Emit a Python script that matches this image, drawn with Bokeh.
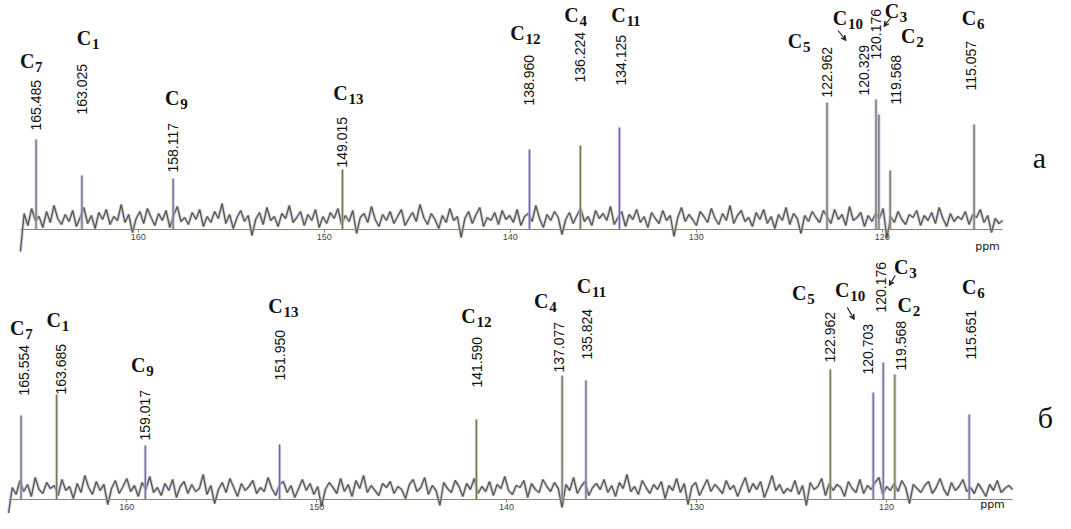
import numpy as np
from bokeh.plotting import figure
from bokeh.models import Range1d, FixedTicker, Arrow, VeeHead
from bokeh.layouts import column
from bokeh.embed import file_html
from bokeh.resources import INLINE
from bokeh.core.properties import value

# ---------------- data ----------------
carbons = ["7", "1", "9", "13", "12", "4", "11", "5", "10", "3", "2", "6"]

shift_a = [165.485, 163.025, 158.117, 149.015, 138.960, 136.224,
           134.125, 122.962, 120.329, 120.176, 119.568, 115.057]
height_a = [90, 54, 51, 60, 80, 84, 102, 127, 130, 115, 59, 105]

shift_b = [165.554, 163.685, 159.017, 151.950, 141.590, 137.077,
           135.824, 122.962, 120.703, 120.176, 119.568, 115.651]
height_b = [84, 105, 54, 55, 80, 124, 119, 130, 107, 137, 125, 85]

noise_a = [-22, 16, 4, 21, 9, 13, 2, 18, 7, 24, 11, 5,
           15, 8, 19, 3, 12, 22, 6, 14, 1, 17, 10, 20,
           5, 13, 9, 25, 7, 15, -3, 11, 18, 6, 21, 12,
           4, 16, 9, 19, 2, 14, 23, 8, 12, 5, 17, 10,
           20, 3, 13, 7, 18, 11, 26, 6, 15, 1, 12, 19,
           8, 14, -6, 10, 17, 5, 22, 9, 13, 3, 16, 11,
           24, 7, 12, 18, 4, 15, 9, 20, 2, 13, 6, 17,
           11, 21, 5, 14, 8, 19, -4, 12, 16, 7, 23, 10,
           3, 15, 9, 18, 6, 13, 20, 4, 11, 17, 8, 25,
           12, 5, 16, 10, 1, 14, 7, 21, 9, 13, -8, 11,
           18, 6, 15, 22, 3, 12, 9, 17, 5, 19, 10, 14,
           7, 20, 4, 13, 16, 8, 24, 11, 2, 15, 9, 18,
           12, -5, 10, 17, 6, 14, 21, 8, 13, 4, 19, 11,
           16, 9, 23, 5, 12, 18, 3, 15, 10, 20, 7, 13,
           2, 17, 11, 6, 19, 9, 14, -7, 12, 22, 8, 15,
           10, 4, 18, 13, 7, 21, 11, 5, 16, 9, 24, 6,
           14, 19, 8, 12, 3, 17, 10, 20, 6, 13, 1, 15,
           9, 22, 5, 16, 11, -4, 14, 8, 18, 12, 7, 19,
           13, 6, 20, 10, 15, 4, 23, 9, 12, 17, 3, 14,
           8, 16, 11, 21, -9, 13, 7, 18, 10, 5, 15, 12,
           19, 4, 14, 9, 17, 6, 22, 11, 3, 16, 8, 13,
           10, 18, 5, 15, 12, 20, 7, 14, -3, 11, 6, 9]

noise_b = [-14, 12, 5, 19, 8, 15, 3, 22, 10, 6, 17, 11,
           14, 4, 20, 9, 13, 1, 16, 7, 24, 12, 5, 18,
           9, 15, -5, 11, 19, 6, 13, 21, 8, 14, 3, 17,
           10, 23, 7, 12, 4, 16, 9, 20, 2, 13, 18, 6,
           15, 8, 11, 25, 5, 14, -4, 10, 17, 7, 21, 12,
           3, 16, 9, 13, 19, 6, 12, 8, 22, 11, 4, 15,
           18, 7, 14, 2, 11, 20, 9, 16, 5, 13, -7, 10,
           17, 12, 6, 21, 8, 15, 3, 19, 11, 24, 7, 14,
           9, 4, 16, 12, 18, 6, 13, 10, 1, 15, 20, 8,
           12, 22, 5, 14, 9, -6, 17, 11, 7, 19, 13, 3,
           16, 10, 21, 6, 13, 8, 18, 4, 15, 11, 23, 9,
           5, 14, 12, 19, 2, 16, 10, 7, 20, 13, 8, 17,
           11, -8, 15, 9, 22, 6, 13, 18, 4, 12, 16, 10,
           20, 7, 14, 3, 17, 11, 25, 8, 13, 5, 19, 12,
           6, 15, 10, 18, 1, 14, 9, 21, 7, 16, -5, 13,
           17, 4, 12, 20, 8, 15, 11, 6, 19, 10, 14, 3,
           13, 22, 7, 16, 10, 18, 2, 12, 24, 9, 15, 6,
           11, 8, 19, 5, 14, -6, 17, 10, 13, 21, 4, 16,
           9, 15, 12, 3, 18, 11, 7, 20, 6, 14, 10, 17,
           22, 5, 13, 9, 16, 8, 19, 12, -4, 15, 11, 7,
           14, 18, 6, 12, 21, 10, 4, 17, 9, 13, 20, 8,
           12, 6, 16, 10, 3, 15, 9, 19, 7, 11, 14, 10]

tick_ppm = [160, 150, 140, 130, 120]
span_a = (166.33, 113.52)
span_b = (166.22, 113.37)
tags = ["a", "б"]

# ---------------- layout / style ----------------
W = 1055
NUM_FONT = value("Liberation Sans, Arial, sans-serif")
SERIF = value("Liberation Serif, DejaVu Serif, serif")
OLIVE = "#5e5a3c"
LAV = "#b4b4f2"

layout_a = dict(
    xr=(167.40, 110.68), H=253, base=229,
    lab_dx=[0, 0, 0, 0, 0, 0, 2, 0, -12, -3, 6, -3],
    lab_h=[99, 115, 57, 62, 124, 147, 144, 132, 134, 170, 125, 139],
    c_dx=[-9, 2, -1, -2, -12, -9, -1, -32, -36, 13, 18, -5],
    c_h=[169, 192, 132, 137, 197, 215, 215, 189, 212, 219, 194, 212],
    arrows=[(8, -38, 199, -30, 189), (9, 12, 212, 5, 203)],
    tag_px=1047, tag_h=72, ppm_px=995, ppm_h=-17,
)
layout_b = dict(
    xr=(166.64, 111.11), H=260, base=246,
    lab_dx=[3, 4, 0, 0, 1, -3, 1, 0, -5, -2, 6, 2],
    lab_h=[104, 105, 59, 119, 112, 127, 140, 137, 125, 187, 129, 140],
    c_dx=[-4, -3, -7, -4, -8, -21, -2, -31, -31, 18, 10, 0],
    c_h=[172, 180, 135, 194, 184, 199, 214, 207, 210, 233, 195, 213],
    arrows=[(8, -26, 192, -19, 180), (9, 12, 224, 6, 214)],
    tag_px=1053, tag_h=82, ppm_px=1000, ppm_h=-5,
)


def spectrum(shifts, heights, noise, span, tag, L):
    xr = L["xr"]
    H, base = L["H"], L["base"]
    p = figure(width=W, height=H, x_range=Range1d(*xr),
               y_range=Range1d(base - H, base),
               output_backend="svg", toolbar_location=None,
               y_axis_location=None, min_border=0,
               min_border_left=0, min_border_right=0,
               min_border_top=0, min_border_bottom=0)
    p.outline_line_color = None
    p.grid.visible = False
    scale = W / (xr[0] - xr[1])

    def shift(ppm, dx):
        return ppm - dx / scale

    def from_page(px):
        return xr[0] - (px - 8) / scale

    ax = p.xaxis[0]
    ax.fixed_location = 0
    ax.ticker = FixedTicker(ticks=tick_ppm, minor_ticks=[])
    ax.bounds = span
    ax.axis_line_color = "#8a8870"
    ax.major_tick_line_color = "#8a8870"
    ax.major_tick_in = 0
    ax.major_tick_out = 3
    ax.major_label_text_font_size = "9px"
    ax.major_label_text_color = "#444444"
    ax.major_label_standoff = 1

    nx = np.linspace(span[0], span[1], len(noise))
    p.line(nx, noise, line_color=LAV, line_width=3.5, line_alpha=0.5)
    p.line(nx, noise, line_color=OLIVE, line_width=1.4)

    zeros = [0] * len(shifts)
    p.segment(x0=shifts, y0=zeros, x1=shifts, y1=heights,
              line_color=LAV, line_width=3, line_alpha=0.8)
    p.segment(x0=shifts, y0=zeros, x1=shifts, y1=heights,
              line_color="#77734f", line_width=1.2)

    labels = [f"{s:.3f}" for s in shifts]
    lx = [shift(s, d) for s, d in zip(shifts, L["lab_dx"])]
    p.text(x=lx, y=L["lab_h"], text=labels, angle=np.pi / 2,
           text_align="left", text_baseline="middle",
           text_font=NUM_FONT, text_font_size="14px", text_color="#111111")

    cx = [shift(s, d) for s, d in zip(shifts, L["c_dx"])]
    p.text(x=cx, y=L["c_h"], text=["C"] * len(shifts),
           text_align="center", text_baseline="middle",
           text_font=SERIF, text_font_style="bold",
           text_font_size="20px", text_color="#111111")
    p.text(x=cx, y=L["c_h"], text=carbons, x_offset=8, y_offset=6,
           text_align="left", text_baseline="middle",
           text_font=SERIF, text_font_style="bold",
           text_font_size="15px", text_color="#111111")

    for i, dx0, h0, dx1, h1 in L["arrows"]:
        p.add_layout(Arrow(x_start=shift(shifts[i], dx0), y_start=h0,
                           x_end=shift(shifts[i], dx1), y_end=h1,
                           line_color="#222222", line_width=1.2,
                           end=VeeHead(size=5, line_color="#222222",
                                       fill_color="#222222", line_width=1)))

    p.text(x=[from_page(L["ppm_px"])], y=[L["ppm_h"]], text=["ppm"],
           text_align="center", text_baseline="middle",
           text_font=value("DejaVu Sans"), text_font_size="11px",
           text_color="#111111")
    p.text(x=[from_page(L["tag_px"])], y=[L["tag_h"]], text=[tag],
           text_align="center", text_baseline="middle",
           text_font=SERIF, text_font_size="30px", text_color="#111111")
    return p


pa = spectrum(shift_a, height_a, noise_a, span_a, tags[0], layout_a)
pb = spectrum(shift_b, height_b, noise_b, span_b, tags[1], layout_b)
page = column(pa, pb, spacing=0)

open("out.html", "w").write(file_html(page, INLINE))
